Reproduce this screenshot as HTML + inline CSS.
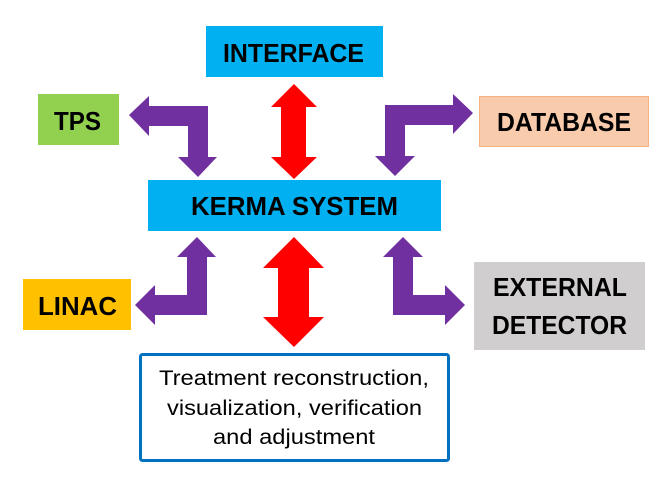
<!DOCTYPE html>
<html><head><meta charset="utf-8"><style>
html,body{margin:0;padding:0;background:#fff}
svg{display:block}
text{font-family:"Liberation Sans",sans-serif}
.b{font-weight:bold;font-size:26px;fill:#000}
.n{font-size:21px;fill:#000}
</style></head><body>
<svg width="663" height="481" viewBox="0 0 663 481" xmlns="http://www.w3.org/2000/svg">
<rect x="206" y="26" width="177" height="51" fill="#00b0f0"/>
<rect x="38" y="94" width="81" height="51" fill="#92d050"/>
<rect x="479.5" y="96.5" width="169" height="50" fill="#f8cbad" stroke="#f4b183" stroke-width="1"/>
<rect x="148" y="180" width="293" height="51" fill="#00b0f0"/>
<rect x="23" y="279" width="108" height="51" fill="#ffc000"/>
<rect x="474" y="262" width="171" height="88" fill="#d0cece"/>
<rect x="140.5" y="354.5" width="308" height="106" fill="#fff" stroke="#0070c0" stroke-width="3" rx="2"/>
<text class="b" x="223" y="62" textLength="141" lengthAdjust="spacingAndGlyphs">INTERFACE</text>
<text class="b" x="54" y="130" textLength="47" lengthAdjust="spacingAndGlyphs">TPS</text>
<text class="b" x="497" y="131" textLength="134" lengthAdjust="spacingAndGlyphs">DATABASE</text>
<text class="b" x="191" y="215" textLength="207" lengthAdjust="spacingAndGlyphs">KERMA SYSTEM</text>
<text class="b" x="38" y="315" textLength="79" lengthAdjust="spacingAndGlyphs">LINAC</text>
<text class="b" x="493" y="296" textLength="134" lengthAdjust="spacingAndGlyphs">EXTERNAL</text>
<text class="b" x="492" y="334" textLength="135" lengthAdjust="spacingAndGlyphs">DETECTOR</text>
<text class="n" x="159" y="385" textLength="270" lengthAdjust="spacingAndGlyphs">Treatment reconstruction,</text>
<text class="n" x="167" y="415" textLength="255" lengthAdjust="spacingAndGlyphs">visualization, verification</text>
<text class="n" x="213" y="444" textLength="162" lengthAdjust="spacingAndGlyphs">and adjustment</text>
<polygon fill="#ff0000" points="294,84 317,107 306,107 306,157 317,157 294,179 271,157 281,157 281,107 271,107"/>
<polygon fill="#ff0000" points="294,237 324,268 309,268 309,317 324,317 294,347 263,317 278,317 278,268 263,268"/>
<polygon fill="#7030a0" points="129,115 149,96 149,106 208,106 208,157 217,157 198,177 178,157 188,157 188,126 149,126 149,136"/>
<polygon fill="#7030a0" points="473,113 453,94 453,105 385,105 385,156 375,156 395,176 415,156 405,156 405,125 453,125 453,134"/>
<polygon fill="#7030a0" points="197,237 216,257 207,257 207,315 155,315 155,325 135,305 155,285 155,295 187,295 187,257 177,257"/>
<polygon fill="#7030a0" points="403,237 423,257 413,257 413,295 445,295 445,285 465,305 445,325 445,315 393,315 393,257 383,257"/>
</svg>
</body></html>
